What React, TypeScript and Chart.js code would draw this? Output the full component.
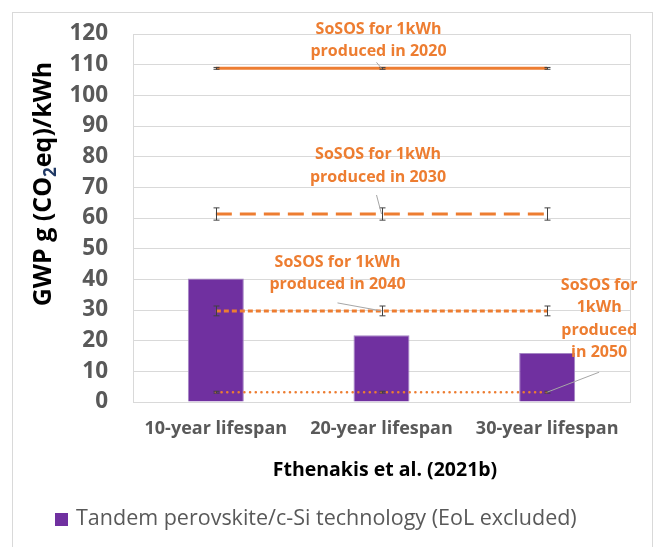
import React, { useEffect, useRef } from "react";
import { Chart, registerables } from "chart.js";

Chart.register(...registerables);

const categories = ["10-year lifespan", "20-year lifespan", "30-year lifespan"];
const barLabel = "Tandem perovskite/c-Si technology (EoL excluded)";
const barValues = [40.3, 21.8, 16.0];

const sos2020 = [108.8, 108.8, 108.8];
const sos2030 = [61.3, 61.3, 61.3];
const sos2040 = [29.7, 29.7, 29.7];
const sos2050 = [3.2, 3.2, 3.2];

const err2020 = [0.3, 0.3, 0.3];
const err2030 = [2.0, 2.0, 2.0];
const err2040 = [1.6, 1.6, 1.6];
const err2050 = [0.3, 0.3, 0.3];

const yTicksMin = 0;
const yTicksMax = 120;
const yTicksStep = 10;

const yTitleParts = ["GWP g (CO", "2", "eq)/kWh"];
const xTitle = "Fthenakis et al. (2021b)";

const label2020 = ["SoSOS for 1kWh", "produced in 2020"];
const label2030 = ["SoSOS for 1kWh", "produced in 2030"];
const label2040 = ["SoSOS for 1kWh", "produced in 2040"];
const label2050 = ["SoSOS for", "1kWh", "produced", "in 2050"];

const ORANGE = "#ED7D31";
const PURPLE = "#7030A0";
const GRID = "#D9D9D9";
const FONT = "'Open Sans'";

// annotation layout: anchor dataset index / category index, pixel offsets
const annotations = [
  { ds: 1, idx: 1, lines: label2020, lead: [-5, -6], tx: -3, ty: [-39, -17] },
  { ds: 2, idx: 1, lines: label2030, lead: [-5, -19], tx: -3.5, ty: [-60, -37] },
  { ds: 3, idx: 1, lines: label2040, lead: [-44, -8], tx: -44, ty: [-48, -26] },
  { ds: 4, idx: 2, lines: label2050, lead: [52, -20], tx: 52, ty: [-107, -85, -62, -40] },
];

const errorBars = [null, err2020, err2030, err2040, err2050];

const extrasPlugin = {
  id: "extras",
  beforeDraw(chart: any) {
    const ctx = chart.ctx;
    ctx.save();
    ctx.fillStyle = "#FFFFFF";
    ctx.fillRect(0, 0, chart.width, chart.height);
    ctx.strokeStyle = GRID;
    ctx.lineWidth = 1;
    ctx.strokeRect(12.5, 12.5, 640, 560);
    ctx.restore();
  },
  afterDatasetsDraw(chart: any) {
    const ctx = chart.ctx;
    const ca = chart.chartArea;
    const x = chart.scales.x;
    const y = chart.scales.y;
    ctx.save();
    // plot border right
    ctx.strokeStyle = GRID;
    ctx.lineWidth = 1;
    ctx.beginPath();
    ctx.moveTo(Math.round(ca.right) + 0.5, ca.top);
    ctx.lineTo(Math.round(ca.right) + 0.5, ca.bottom);
    ctx.stroke();

    // error bars
    ctx.strokeStyle = "#404040";
    ctx.lineWidth = 1;
    errorBars.forEach((errs, di) => {
      if (!errs) return;
      const data = chart.data.datasets[di].data as number[];
      data.forEach((v, i) => {
        const px = Math.round(x.getPixelForValue(i)) + 0.5;
        const top = y.getPixelForValue(v + errs[i]);
        const bot = y.getPixelForValue(v - errs[i]);
        ctx.beginPath();
        ctx.moveTo(px, top);
        ctx.lineTo(px, bot);
        ctx.moveTo(px - 3, top);
        ctx.lineTo(px + 3, top);
        ctx.moveTo(px - 3, bot);
        ctx.lineTo(px + 3, bot);
        ctx.stroke();
      });
    });

    // annotations
    annotations.forEach((a) => {
      const v = (chart.data.datasets[a.ds].data as number[])[a.idx];
      const ax = x.getPixelForValue(a.idx);
      const ay = y.getPixelForValue(v);
      ctx.strokeStyle = "#A6A6A6";
      ctx.lineWidth = 1;
      ctx.beginPath();
      ctx.moveTo(ax + a.lead[0], ay + a.lead[1]);
      ctx.lineTo(ax, ay);
      ctx.stroke();
      ctx.fillStyle = ORANGE;
      ctx.font = `bold 16px ${FONT}`;
      ctx.textAlign = "center";
      ctx.textBaseline = "middle";
      a.lines.forEach((t, k) => {
        ctx.fillText(t, ax + a.tx, ay + a.ty[k]);
      });
    });

    // y title with subscript
    ctx.save();
    ctx.translate(44, 184);
    ctx.rotate(-Math.PI / 2);
    ctx.textBaseline = "middle";
    ctx.textAlign = "left";
    const big = `bold 25px ${FONT}`;
    const small = `bold 17px ${FONT}`;
    ctx.font = big;
    const w0 = ctx.measureText(yTitleParts[0]).width;
    const w2 = ctx.measureText(yTitleParts[2]).width;
    ctx.font = small;
    const w1 = ctx.measureText(yTitleParts[1]).width;
    const total = w0 + w1 + w2;
    let cx = -total / 2;
    ctx.font = big;
    ctx.fillStyle = "#000000";
    ctx.fillText(yTitleParts[0], cx, 0);
    cx += w0;
    ctx.font = small;
    ctx.fillStyle = "#1F3864";
    ctx.fillText(yTitleParts[1], cx, 7);
    cx += w1;
    ctx.font = big;
    ctx.fillStyle = "#000000";
    ctx.fillText(yTitleParts[2], cx, 0);
    ctx.restore();

    // x title
    ctx.fillStyle = "#000000";
    ctx.font = `bold 19.5px ${FONT}`;
    ctx.textAlign = "center";
    ctx.textBaseline = "middle";
    ctx.fillText(xTitle, 385, 470);

    // legend
    const ds0 = chart.data.datasets[0];
    ctx.font = `21.5px ${FONT}`;
    const lx = 55;
    ctx.fillStyle = ds0.backgroundColor;
    ctx.fillRect(lx, 513, 13, 13);
    ctx.fillStyle = "#595959";
    ctx.textAlign = "left";
    ctx.fillText(ds0.label, lx + 21, 519);
    ctx.restore();
  },
};

export default function App() {
  const ref = useRef<HTMLCanvasElement>(null);
  useEffect(() => {
    document.body.style.margin = "0";
    const lineBase = {
      type: "line" as const,
      borderColor: ORANGE,
      pointRadius: 0,
      fill: false,
      borderWidth: 3,
    };
    const chart = new Chart(ref.current as HTMLCanvasElement, {
      type: "bar",
      data: {
        labels: categories,
        datasets: [
          {
            label: barLabel,
            data: barValues,
            backgroundColor: PURPLE,
            borderColor: "#A585C4",
            borderWidth: 1,
            barPercentage: 0.338,
            categoryPercentage: 1,
            order: 2,
          } as any,
          { ...lineBase, label: "2020", data: sos2020, order: 1 },
          { ...lineBase, label: "2030", data: sos2030, borderDash: [16, 8], order: 1 },
          { ...lineBase, label: "2040", data: sos2040, borderDash: [5, 3], order: 1 },
          {
            ...lineBase,
            label: "2050",
            data: sos2050,
            borderWidth: 2.5,
            borderDash: [0.1, 5.6],
            borderCapStyle: "round",
            order: 1,
          },
        ],
      },
      options: {
        responsive: false,
        animation: false,
        layout: { autoPadding: false, padding: { left: 0, right: 27, top: 34, bottom: 0 } },
        plugins: { legend: { display: false }, tooltip: { enabled: false } },
        scales: {
          x: {
            grid: { display: false, drawTicks: false },
            border: { display: true, color: GRID },
            ticks: {
              color: "#595959",
              font: { family: FONT, size: 18, weight: "bold" },
              padding: 16,
            },
            afterFit: (s: any) => {
              s.height = 145;
            },
          },
          y: {
            min: yTicksMin,
            max: yTicksMax,
            grid: { color: GRID, drawTicks: false },
            border: { display: true, color: GRID },
            ticks: {
              stepSize: yTicksStep,
              autoSkip: false,
              color: "#595959",
              font: { family: FONT, size: 22.5, weight: "bold" },
              padding: 25,
            },
            afterFit: (s: any) => {
              s.width = 133;
              s.paddingTop = 0;
              s.paddingBottom = 0;
            },
          },
        },
      },
      plugins: [extrasPlugin],
    });
    return () => chart.destroy();
  }, []);
  return (
    <div style={{ width: 657, height: 547 }}>
      <canvas ref={ref} width={657} height={547} />
    </div>
  );
}
